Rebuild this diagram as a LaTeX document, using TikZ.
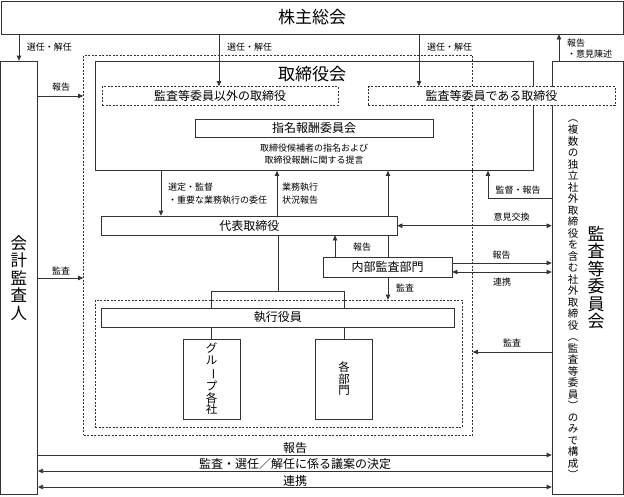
\documentclass[tikz,border=0pt]{standalone}
\usepackage{fontspec}
\setmainfont{Noto Sans CJK JP}
\usetikzlibrary{arrows.meta,calc}
\newcommand\vlp{\rotatebox[origin=c]{-90}{（}}
\newcommand\vrp{\rotatebox[origin=c]{-90}{）}}
\newcommand\vbar{\rotatebox[origin=c]{-90}{ー}}
\begin{document}
\begin{tikzpicture}[x=1pt,y=-1pt,
  bx/.style={draw=black!80, line width=0.7pt, fill=white, inner sep=0pt},
  obx/.style={draw=black!80, line width=0.7pt, inner sep=0pt},
  dbx/.style={draw=black!80, line width=0.7pt, dash pattern=on 2pt off 1.5pt, inner sep=0pt},
  ln/.style={draw=black!80, line width=0.7pt},
  arr/.style={ln, -{Triangle[length=5pt,width=4.5pt]}},
  arrb/.style={ln, {Triangle[length=5pt,width=4.5pt]}-{Triangle[length=5pt,width=4.5pt]}},
  lbl/.style={font=\fontsize{9}{11}\selectfont, inner sep=0pt},
  blbl/.style={font=\fontsize{12}{14}\selectfont, inner sep=0pt},
  ttl/.style={font=\fontsize{17}{20}\selectfont},
  mid/.style={font=\fontsize{12}{14}\selectfont},
]
\useasboundingbox (0,0) rectangle (624,496);

% coordinates for connector positions
\coordinate (x19) at (19,0);
\coordinate (x219) at (219,0);
\coordinate (x419) at (419,0);
\coordinate (x559) at (559,0);
\coordinate (x161) at (161,0);
\coordinate (x277) at (277,0);
\coordinate (x388) at (388,0);
\coordinate (x335) at (335,0);
\coordinate (x488) at (488,0);
\coordinate (x278) at (278,0);
\coordinate (y96) at (0,96);
\coordinate (y278) at (0,278);
\coordinate (y198) at (0,198);
\coordinate (y226) at (0,225.7);
\coordinate (y263) at (0,263);
\coordinate (y272) at (0,272);
\coordinate (y352) at (0,352);
\coordinate (y455) at (0,455);
\coordinate (y471) at (0,471);
\coordinate (y487) at (0,487);

% outer boxes
\node[bx, ttl, minimum width=622pt, minimum height=33pt] (sh) at (312,17.5) {株主総会};
\node[bx, minimum width=37.2pt, minimum height=433.5pt] (kaikei) at (19.1,277.75) {};
\node[bx, minimum width=71.5pt, minimum height=433.5pt] (kansa) at (587.75,277.75) {};
\node[dbx, minimum width=389pt, minimum height=380pt] (outer) at (278,245) {};
\node[obx, minimum width=438pt, minimum height=109.5pt] (tb) at (314,115.75) {};
\node[inner sep=0pt, ttl] (tbt) at (312,74) {取締役会};

% vertical texts
\node[inner sep=0pt, align=center, font=\fontsize{16.5}{17.5}\selectfont] (kaikeit) at (18.8,278)
  {会\\計\\監\\査\\人};
\node[inner sep=0pt, align=center, font=\fontsize{17}{17.4}\selectfont] (kansat) at (596,277.5)
  {監\\査\\等\\委\\員\\会};
\node[inner sep=0pt, align=center, font=\fontsize{10.5}{11.5}\selectfont] (kansas) at (573,296.3)
  {\vlp\\複\\数\\の\\独\\立\\社\\外\\取\\締\\役\\を\\含\\む\\社\\外\\取\\締\\役\\\vlp\\監\\査\\等\\委\\員\\\vrp\\の\\み\\で\\構\\成\\\vrp};

% director boxes
\node[dbx, fill=white, mid, minimum width=236pt, minimum height=18.5pt] (boxA) at (220,95.75) {監査等委員以外の取締役};
\node[dbx, fill=white, mid, minimum width=247pt, minimum height=18.5pt] (boxB) at (491.5,95.75) {監査等委員である取締役};
\node[bx, mid, minimum width=238pt, minimum height=18pt] (shimei) at (314,128) {指名報酬委員会};
\node[inner sep=0pt, align=center, font=\fontsize{9}{12}\selectfont] (shimeit) at (314,154)
  {取締役候補者の指名および\\取締役報酬に関する提言};

% executive nodes
\node[bx, mid, minimum width=295.5pt, minimum height=19pt] (daihyo) at (249.25,225.5) {代表取締役};
\node[bx, mid, minimum width=129pt, minimum height=20pt] (naibu) at (387.5,267) {内部監査部門};
\node[dbx, minimum width=367pt, minimum height=127pt] (inner) at (278.5,363.5) {};
\node[bx, mid, minimum width=352.5pt, minimum height=19pt] (shikko) at (277.75,317.5) {執行役員};
\node[bx, minimum width=56.7pt, minimum height=80pt, align=center, font=\fontsize{11.5}{11.8}\selectfont] (group) at (211.65,379)
  {グ\\ル\\\vbar\\プ\\各\\社};
\node[bx, minimum width=56.6pt, minimum height=80pt, align=center, font=\fontsize{11.5}{11.5}\selectfont] (bumon) at (344,379)
  {各\\部\\門};

% connectors from shareholders meeting
\draw[arr] (sh.south -| x19) -- (kaikei.north -| x19);
\draw[arr] (sh.south -| x219) -- (boxA.north -| x219);
\draw[arr] (sh.south -| x419) -- (boxB.north -| x419);
\draw[arr] (kansa.north -| x559) -- (sh.south -| x559);
\node[lbl, anchor=west] (l1) at (26.7,47) {選任・解任};
\node[lbl, anchor=west] (l2) at (227,47) {選任・解任};
\node[lbl, anchor=west] (l3) at (427,47) {選任・解任};
\node[lbl, anchor=west] (l4) at (567,42.7) {報告};
\node[lbl, anchor=west] (l5) at (567,54) {・意見陳述};

% accounting auditor
\draw[arr] (kaikei.east |- y96) -- (outer.west |- y96);
\draw[arr] (kaikei.east |- y278) -- (outer.west |- y278);
\node[lbl] (l6) at (61.2,87) {報告};
\node[lbl] (l7) at (61,270.5) {監査};

% board <-> representative director
\draw[arr] (tb.south -| x161) -- (daihyo.north -| x161);
\draw[arr] (daihyo.north -| x277) -- (tb.south -| x277);
\node[lbl, anchor=west] (l8) at (168,187) {選定・監督};
\node[lbl, anchor=west] (l9) at (168,200) {・重要な業務執行の委任};
\node[lbl, anchor=west] (l10) at (282,187) {業務執行};
\node[lbl, anchor=west] (l11) at (282,200) {状況報告};

% internal audit
\draw[ln] (naibu.north -| x388) -- (daihyo.south -| x388);
\draw[arr] (daihyo.north -| x388) -- (tb.south -| x388);
\draw[arr] (naibu.north -| x335) -- (daihyo.south -| x335);
\draw[arr] (naibu.south -| x388) -- (inner.north -| x388);
\node[lbl] (l12) at (362,246.7) {報告};
\node[lbl] (l13) at (405,288) {監査};

% audit committee links
\draw[arrb] (daihyo.east |- y226) -- (kansa.west |- y226);
\draw[arr] (naibu.east |- y263) -- (kansa.west |- y263);
\draw[arrb] (naibu.east |- y272) -- (kansa.west |- y272);
\draw[arr] (kansa.west |- y198) -- (x488 |- y198) -- (tb.south -| x488);
\draw[arr] (kansa.west |- y352) -- (outer.east |- y352);
\node[lbl] (l14) at (518,190) {監督・報告};
\node[lbl] (l15) at (511.7,217) {意見交換};
\node[lbl] (l16) at (501.5,255) {報告};
\node[lbl] (l17) at (502,281.7) {連携};
\node[lbl] (l18) at (512,343) {監査};

% tree
\draw[ln] (daihyo.south -| x278) -- ($(shikko.north -| x278)+(0,-16)$);
\draw[ln] (shikko.north -| group.north) -- ++(0,-16) -| (shikko.north -| bumon.north);
\draw[ln] (shikko.south -| group.north) -- (group.north);
\draw[ln] (shikko.south -| bumon.north) -- (bumon.north);

% bottom
\draw[arr] (kaikei.east |- y455) -- (kansa.west |- y455);
\draw[arr] (kansa.west |- y471) -- (kaikei.east |- y471);
\draw[arrb] (kaikei.east |- y487) -- (kansa.west |- y487);
\node[blbl] (l19) at (295,448) {報告};
\node[blbl] (l20) at (295,464) {監査・選任／解任に係る議案の決定};
\node[blbl] (l21) at (295,480.5) {連携};
\end{tikzpicture}
\end{document}
